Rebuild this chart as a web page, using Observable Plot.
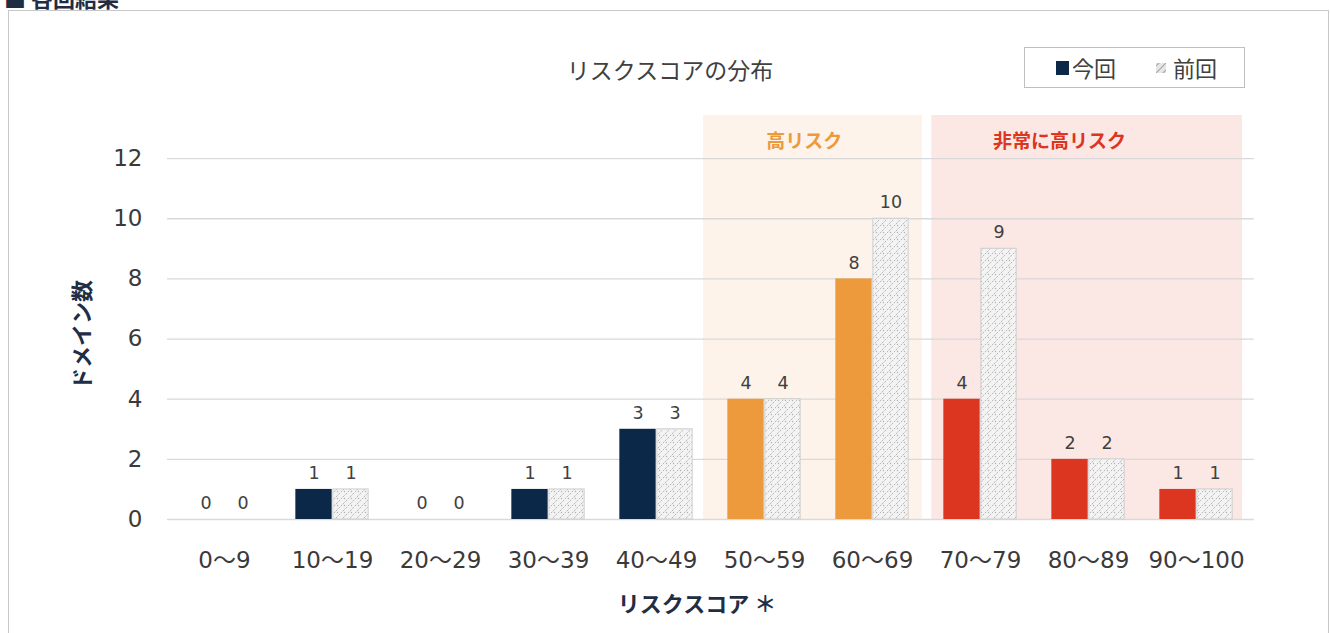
<!DOCTYPE html>
<html><head><meta charset="utf-8">
<script src="https://cdn.jsdelivr.net/npm/d3@7"></script>
<script src="https://cdn.jsdelivr.net/npm/@observablehq/plot@0.6"></script>
<style>
body{margin:0;background:#fff;font-family:"DejaVu Sans","Noto Sans CJK JP",sans-serif;}
#wrap{position:relative;width:1330px;height:633px;overflow:hidden;}
#frame{position:absolute;left:8px;top:10px;width:1321px;height:660px;border:1px solid #c8c8c8;box-sizing:border-box;}
#cut{position:absolute;left:4px;top:-19px;font:bold 22px "Noto Sans CJK JP";color:#1f2d45;}
#title{position:absolute;left:0;width:1340px;top:52px;text-align:center;font:23px "Noto Sans CJK JP";color:#404040;}
#legend{position:absolute;left:1024px;top:47px;width:221px;height:41px;border:1px solid #bfbfbf;box-sizing:border-box;font:22px "Noto Sans CJK JP";color:#404040;}
#legend .sw1{position:absolute;left:31px;top:13px;width:13px;height:14px;background:#0c2848;}
#legend .t1{position:absolute;left:47px;top:4px;line-height:30px;}
#legend .sw2{position:absolute;left:131px;top:15px;width:10px;height:10px;}
#legend .t2{position:absolute;left:148px;top:4px;line-height:30px;}
#ytitle{position:absolute;left:80px;top:335px;transform:translate(-50%,-50%) rotate(-90deg);font:bold 22px "Noto Sans CJK JP";color:#1f2d45;white-space:nowrap;}
#xtitle{position:absolute;left:697px;top:602px;transform:translate(-50%,-50%);font:bold 22px "Noto Sans CJK JP";color:#1f2d45;white-space:nowrap;}
#chart{position:absolute;left:0;top:0;}
</style>
</head><body>
<div id="wrap">
  <div id="frame"></div>
  <div id="cut">■ 各回結果</div>
  <div id="chart"></div>
  <div id="title">リスクスコアの分布</div>
  <div id="legend">
    <div class="sw1"></div><div class="t1">今回</div>
    <svg class="sw2" width="10" height="10"><rect width="10" height="10" fill="#e6e6e6"/><path d="M0,10L10,0M-2,5L5,-2M5,12L12,5" stroke="#a8a8a8" stroke-width="1.2"/></svg><div class="t2">前回</div>
  </div>
  <div id="ytitle">ドメイン数</div>
  <div id="xtitle">リスクスコア ＊</div>
</div>
<script>
const categories = ["0～9","10～19","20～29","30～39","40～49","50～59","60～69","70～79","80～89","90～100"];
const currentValues = [0,1,0,1,3,4,8,4,2,1];
const previousValues = [0,1,0,1,3,4,10,9,2,1];
const riskLevels = ["normal","normal","normal","normal","normal","high","high","veryhigh","veryhigh","veryhigh"];
const yTicks = [0,2,4,6,8,10,12];
const seriesNames = ["今回","前回"];
const zoneLabels = ["高リスク","非常に高リスク"];

const levelColor = {normal:"#0c2848", high:"#ec9a3c", veryhigh:"#dc3520"};
const rows = categories.map((c,i)=>({cat:c, cur:currentValues[i], prev:previousValues[i], level:riskLevels[i]}));
const yTop = 13.5;

const half = 1086.7/10/2;
const barW = 37;
const inner = half - barW;

const highRows = rows.filter(r=>r.level==="high");
const vh = rows.filter(r=>r.level==="veryhigh");

const plot = Plot.plot({
  width:1330, height:633,
  marginLeft:167, marginRight:76.3, marginTop:113, marginBottom:114,
  x:{type:"band", domain:categories, padding:0},
  y:{domain:[0,yTop]},
  style:{fontFamily:'"DejaVu Sans","Noto Sans CJK JP",sans-serif', color:"#3a3a3a", background:"transparent"},
  marks:[
    Plot.barY(highRows, {x:"cat", y1:0, y2:yTop, fill:"#fdf3ea", dx:-7, insetTop:2, insetRight:-3}),
    Plot.barY([vh[0]], {x:"cat", y1:0, y2:yTop, fill:"#fbe7e4", insetLeft:5.3, insetTop:2}),
    Plot.barY([vh[1]], {x:"cat", y1:0, y2:yTop, fill:"#fbe7e4", insetTop:2}),
    Plot.barY([vh[2]], {x:"cat", y1:0, y2:yTop, fill:"#fbe7e4", insetRight:8, insetTop:2}),
    Plot.gridY(yTicks, {stroke:"#d9d9d9", strokeOpacity:1, strokeWidth:1.3}),
    Plot.axisY({ticks:yTicks, tickSize:0, tickPadding:25, fontSize:23, label:null}),
    Plot.axisX({tickSize:0, tickPadding:32, fontSize:23, label:null}),
    Plot.barY(rows, {x:"cat", y:"cur", fill:d=>levelColor[d.level], insetLeft:inner, insetRight:half}),
    Plot.barY(rows, {x:"cat", y:"prev", fill:"url(#hatch)", stroke:"#cfcfcf", strokeWidth:1, insetLeft:half+0.5, insetRight:inner+0.5}),
    Plot.text(rows, {x:"cat", y:"cur", text:d=>String(d.cur), dx:-18.5, dy:-16, fontSize:17.5, fill:"#404040"}),
    Plot.text(rows, {x:"cat", y:"prev", text:d=>String(d.prev), dx:18.5, dy:-16, fontSize:17.5, fill:"#404040"}),
    Plot.text([zoneLabels[0]], {x:()=>"60～69", y:()=>12.55, text:d=>d, dx:-half-14, fontSize:19, fontWeight:"bold", fill:"#ec9a3c", fontFamily:"Noto Sans CJK JP"}),
    Plot.text([zoneLabels[1]], {x:()=>"80～89", y:()=>12.55, text:d=>d, dx:-29, fontSize:19, fontWeight:"bold", fill:"#dc3520", fontFamily:"Noto Sans CJK JP"})
  ]
});
const ns = "http://www.w3.org/2000/svg";
const defs = document.createElementNS(ns,"defs");
defs.innerHTML = '<pattern id="hatch" patternUnits="userSpaceOnUse" width="7" height="7"><rect width="7" height="7" fill="#f3f3f3"/><path d="M0,7L7,0M-1.75,1.75L1.75,-1.75M5.25,8.75L8.75,5.25" stroke="#b8b8b8" stroke-width="1" stroke-dasharray="2.2,1.2"/><circle cx="1.5" cy="1.5" r="0.7" fill="#b0b0b0"/></pattern>';
plot.insertBefore(defs, plot.firstChild);
document.getElementById("chart").appendChild(plot);
</script>
</body></html>
